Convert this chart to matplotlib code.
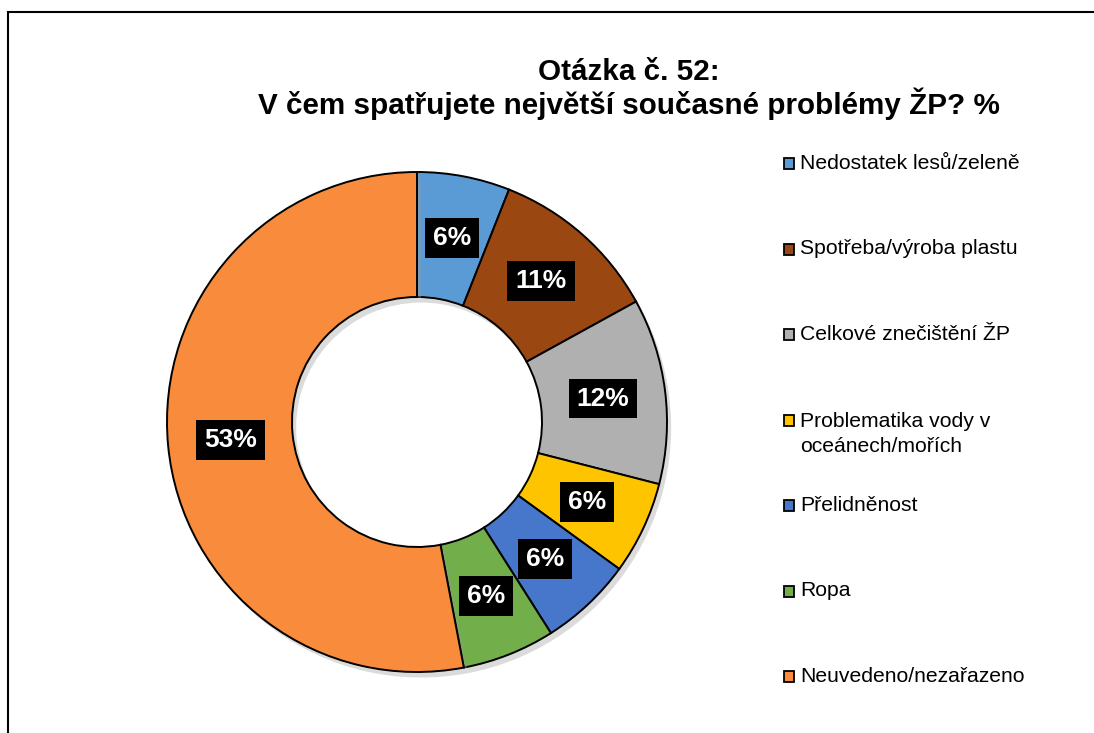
import numpy as np
import matplotlib.pyplot as plt
from matplotlib.patches import Rectangle
import matplotlib.patheffects as pe

plt.rcParams['font.family'] = ['Liberation Sans', 'DejaVu Sans']

categories = ["Nedostatek lesů/zeleně", "Spotřeba/výroba plastu", "Celkové znečištění ŽP",
              "Problematika vody v\noceánech/mořích", "Přelidněnost", "Ropa",
              "Neuvedeno/nezařazeno"]
values = [6, 11, 12, 6, 6, 6, 53]
colors = ["#5B9BD5", "#9A4712", "#B0B0B0", "#FFC400", "#4677CB", "#72AE4A", "#F98B3C"]

W, H = 1094, 733
fig = plt.figure(figsize=(W / 100, H / 100), dpi=100)

# ramecek grafu (presahuje vpravo a dole)
fig.patches.append(Rectangle((8 / W, -0.1), 1.2, (H - 12) / H + 0.1, transform=fig.transFigure,
                             fill=False, edgecolor="black", linewidth=1.5))

# osa pro kolac: stred (417, 422), polomer 250 px
r = 250
ax = fig.add_axes([(417 - r) / W, (H - 422 - r) / H, 2 * r / W, 2 * r / H])
wedges, _ = ax.pie(values, colors=colors, startangle=90, counterclock=False, radius=1.0,
                   wedgeprops=dict(width=0.5, edgecolor="black", linewidth=1.4))
for w in wedges:
    w.set_path_effects([pe.SimplePatchShadow(offset=(3, -4), shadow_rgbFace="#999999", alpha=0.35),
                        pe.Normal()])
ax.set_xlim(-1, 1)
ax.set_ylim(-1, 1)
ax.set_aspect("equal")

total = sum(values)
cum = 0
for v in values:
    mid = 90 - (cum + v / 2) / total * 360
    cum += v
    x = 0.75 * np.cos(np.radians(mid))
    y = 0.75 * np.sin(np.radians(mid))
    ax.text(x, y, f"{round(v / total * 100)}%", ha="center", va="center", color="white",
            fontsize=19, fontweight="bold",
            bbox=dict(boxstyle="square,pad=0.3", facecolor="black", edgecolor="none"))

fig.text(629 / W, 1 - 89 / H, "Otázka č. 52:\nV čem spatřujete největší současné problémy ŽP? %",
         ha="center", va="center", fontsize=21.3, fontweight="bold", linespacing=1.08)

# legenda - prvni radky polozek jsou rovnomerne rozlozene
step = 85.5
lh = 26
for i, (cat, col) in enumerate(zip(categories, colors)):
    base = 169 + i * step
    fig.patches.append(Rectangle((784 / W, 1 - base / H), 10 / W, 11 / H, transform=fig.transFigure,
                                 facecolor=col, edgecolor="black", linewidth=1.3))
    # baseline u viceradkoveho textu = posledni radek
    last = base + cat.count("\n") * lh
    fig.text(800 / W, 1 - last / H, cat, ha="left", va="baseline", fontsize=15.2,
             linespacing=1.35)

fig.savefig("out.png", dpi=100)
